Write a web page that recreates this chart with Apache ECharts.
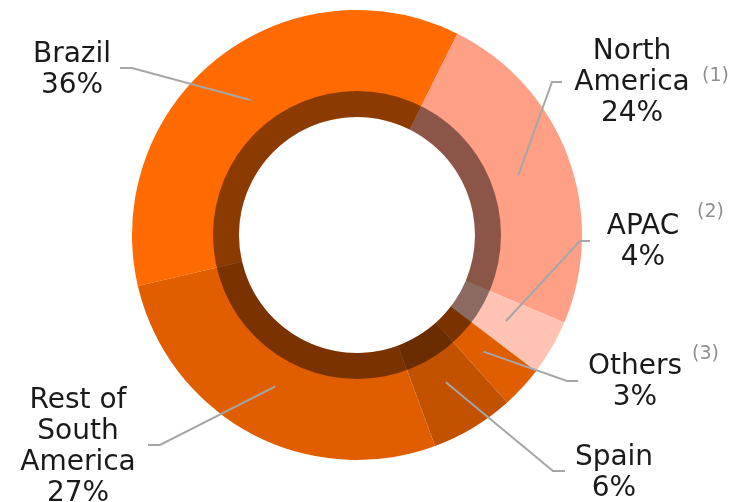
<!DOCTYPE html>
<html>
<head>
<meta charset="utf-8">
<title>Sales by region</title>
<script src="https://cdn.jsdelivr.net/npm/echarts@6/dist/echarts.min.js"></script>
<style>
  html, body { margin: 0; padding: 0; background: #fff; }
  #chart { width: 730px; height: 502px; }
</style>
</head>
<body>
<div id="chart"></div>
<script>
// data
const regions = ['Brazil', 'North America', 'APAC', 'Others', 'Spain', 'Rest of South America'];
const regionLabels = ['Brazil', 'North\nAmerica', 'APAC', 'Others', 'Spain', 'Rest of\nSouth\nAmerica'];
const shares = [36, 24, 4, 3, 6, 27];
const footnotes = ['', '(1)', '(2)', '(3)', '', ''];

const sliceColors = ['#ff6b00', '#ff9f85', '#ffc3b3', '#e05e00', '#c25100', '#e05e00'];

const cx = 357, cy = 235;
// label centre, elbow and end of each leader line
const labelPos = [[72, 70], [632, 83], [643, 242], [635, 382], [614, 473], [78, 447]];
const elbows = [[132, 68], [552, 82], [580, 241], [567, 381], [553, 471], [160, 445]];
const lineEnds = [[120, 68], [562, 82], [590, 241], [578, 381], [565, 471], [148, 445]];
const supPos = [null, [702, 67], [697, 203], [692, 345], null, null];

const chart = echarts.init(document.getElementById('chart'));

const pieBase = {
  type: 'pie',
  center: [cx, cy],
  radius: [118, 225],
  startAngle: 193.1,
  clockwise: true,
  avoidLabelOverlap: false,
  silent: true
};

const option = {
  animation: false,
  series: [
    Object.assign({}, pieBase, {
      name: 'Regions',
      z: 2,
      label: { show: false },
      labelLine: { show: false },
      itemStyle: { borderWidth: 0 },
      data: regions.map((name, i) => ({
        name: name,
        value: shares[i],
        itemStyle: { color: sliceColors[i] }
      }))
    }),
    {
      // darker inner band
      name: 'band',
      type: 'pie',
      center: [cx, cy],
      radius: [118, 144],
      silent: true,
      z: 3,
      label: { show: false },
      labelLine: { show: false },
      itemStyle: { color: 'rgba(0,0,0,0.455)', borderWidth: 0 },
      data: [{ value: 1, name: 'band' }]
    },
    Object.assign({}, pieBase, {
      // same slices, transparent, only to carry labels and leader lines on top
      name: 'Labels',
      z: 4,
      itemStyle: { color: 'rgba(0,0,0,0)', borderWidth: 0 },
      label: {
        show: true,
        position: 'outside',
        color: '#1a1a1a',
        fontFamily: 'DejaVu Sans',
        fontSize: 28,
        lineHeight: 31,
        align: 'center',
        formatter: (p) => regionLabels[p.dataIndex] + '\n' + p.value + '%'
      },
      labelLine: {
        show: true,
        lineStyle: { color: '#a6a6a6', width: 2 }
      },
      labelLayout: (params) => {
        const i = params.dataIndex;
        const p = params.labelLinePoints[0];
        const vx = p[0] - cx, vy = p[1] - cy;
        const len = Math.sqrt(vx * vx + vy * vy);
        const anchor = [cx + vx / len * 172, cy + vy / len * 172];
        return {
          x: labelPos[i][0],
          y: labelPos[i][1],
          align: 'center',
          verticalAlign: 'middle',
          labelLinePoints: [anchor, elbows[i], lineEnds[i]]
        };
      },
      data: regions.map((name, i) => ({ name: name, value: shares[i] }))
    })
  ],
  graphic: footnotes
    .map((t, i) => t ? {
      type: 'text',
      left: supPos[i][0],
      top: supPos[i][1],
      silent: true,
      style: { text: t, fill: '#8f8f8f', fontSize: 19, fontFamily: 'DejaVu Sans' }
    } : null)
    .filter(Boolean)
};

chart.setOption(option);
</script>
</body>
</html>
